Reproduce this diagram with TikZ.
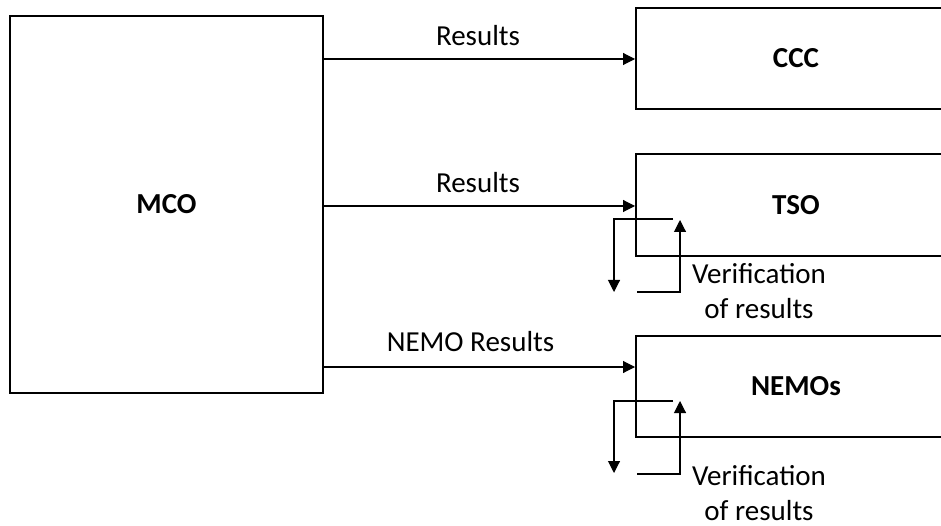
\documentclass[tikz,border=0pt]{standalone}
\usepackage{fontspec}
\setmainfont{Carlito}
\usetikzlibrary{arrows.meta,calc}
\begin{document}
\begin{tikzpicture}[x=1pt,y=-1pt,
  box/.style={draw=black,line width=2pt,inner sep=0pt,font=\fontsize{29}{35}\selectfont\bfseries},
  conn/.style={draw=black,line width=1.1pt,-{Triangle[length=12pt,width=12pt]}},
  lbl/.style={font=\fontsize{29}{35}\selectfont,inner sep=0pt,anchor=base},
  verif/.style={font=\fontsize{29}{35}\selectfont,inner sep=0pt,align=center,anchor=base}]
\useasboundingbox (0,0) rectangle (941,526);
\clip (0,0) rectangle (941,526);
\node[box,minimum width=313pt,minimum height=377pt] (mco) at (166.5,204.5) {MCO};
\node[box,minimum width=320pt,minimum height=101pt] (ccc) at (796,58.5) {CCC};
\node[box,minimum width=320pt,minimum height=102pt] (tso) at (796,205) {TSO};
\node[box,minimum width=320pt,minimum height=101pt] (nemo) at (796,386.5) {NEMOs};
% connector heights
\coordinate (y1) at (0,59);
\coordinate (y2) at (0,206);
\coordinate (y3) at (0,367);
\draw[conn] (mco.east |- y1) -- (ccc.west |- y1);
\draw[conn] (mco.east |- y2) -- (tso.west |- y2);
\draw[conn] (mco.east |- y3) -- (nemo.west |- y3);
\node[lbl] (l1) at (478,46) {Results};
\node[lbl] (l2) at (478,193) {Results};
\node[lbl] (l3) at (470.5,351) {NEMO Results};
% TSO verification loop
\coordinate (t1) at (673,219);
\coordinate (t2) at (614,219);
\coordinate (t3) at (614,292);
\coordinate (t4) at (637,292);
\coordinate (t5) at (680,292);
\coordinate (t6) at (680,220);
\draw[conn] (t1) -- (t2) -- (t3);
\draw[conn] (t4) -- (t5) -- (t6);
\node[verif] (v1) at (759,318) {Verification\\of results};
% NEMO verification loop
\coordinate (n1) at (673,401);
\coordinate (n2) at (614,401);
\coordinate (n3) at (614,473);
\coordinate (n4) at (637,474);
\coordinate (n5) at (680,474);
\coordinate (n6) at (680,401);
\draw[conn] (n1) -- (n2) -- (n3);
\draw[conn] (n4) -- (n5) -- (n6);
\node[verif] (v2) at (759,520) {Verification\\of results};
\end{tikzpicture}
\end{document}
